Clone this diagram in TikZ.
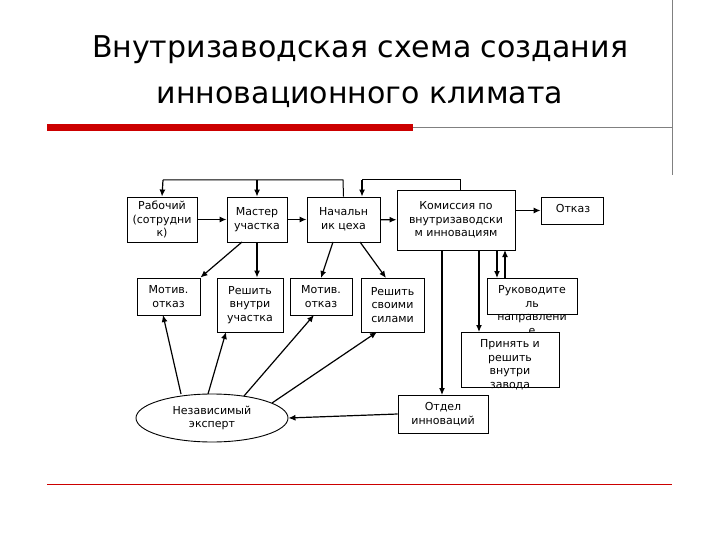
\documentclass[tikz,border=0pt]{standalone}
\usepackage{fontspec}
\setmainfont{DejaVu Sans}
\usetikzlibrary{shapes.geometric,arrows.meta}
\begin{document}
\begin{tikzpicture}[x=1pt,y=-1pt,
  bx/.style={draw,line width=0.9pt,fill=white,font=\fontsize{11}{13.5}\selectfont,align=center,inner sep=0pt},
  tx/.style={font=\fontsize{11}{13.5}\selectfont,align=center},
  ar/.style={line width=1.2pt,-{Latex[length=7pt,width=6pt]}}]
\useasboundingbox (0,0) rectangle (720,540);
\node[font=\fontsize{30}{36}\selectfont] (t1) at (360,50) {Внутризаводская схема создания};
\node[font=\fontsize{30}{36}\selectfont] (t2) at (360,97) {инновационного климата};
\fill[red!80!black] (47,124) rectangle (413,131);
\draw[gray] (413,127) -- (672,127);
\draw[gray] (672,0) -- (672,175);
\draw[red!80!black] (47,484) -- (672,484);
\node[bx,minimum width=70,minimum height=45] (rab) at (162,219.5) {Рабочий\\(сотрудни\\к)};
\node[bx,minimum width=60,minimum height=45] (mas) at (257,219.5) {Мастер\\участка};
\node[bx,minimum width=73,minimum height=45] (nac) at (343.5,219.5) {Начальн\\ик цеха};
\node[bx,minimum width=118,minimum height=60] (kom) at (456,220) {Комиссия по\\внутризаводски\\м инновациям};
\node[bx,minimum width=62,minimum height=27] (otk) at (572,210.5) {};
\node[tx] (otkt) at (573,208) {Отказ};
\node[bx,minimum width=63,minimum height=37] (mo1) at (168.5,296.5) {Мотив.\\отказ};
\node[bx,minimum width=66,minimum height=54] (rv) at (250,305) {Решить\\внутри\\участка};
\node[bx,minimum width=62,minimum height=37] (mo2) at (321,296.5) {Мотив.\\отказ};
\node[bx,minimum width=63,minimum height=54] (rs) at (392.5,305) {Решить\\своими\\силами};
\node[bx,minimum width=90,minimum height=36] (ruk) at (532,296) {};
\node[tx,anchor=north] (rukt) at (532,282) {Руководите\\ль\\направлени\\е};
\node[bx,minimum width=98,minimum height=55] (pri) at (510,359.5) {};
\node[tx,anchor=north] (prit) at (510,336) {Принять и\\решить\\внутри\\завода};
\node[bx,minimum width=90,minimum height=38] (otd) at (443,414) {Отдел\\инноваций};
\node[draw,line width=0.9pt,ellipse,minimum width=152,minimum height=48,inner sep=0pt,tx] (ell) at (212,418) {Независимый\\эксперт};
\coordinate (c1) at (163,180); \coordinate (c2) at (343,180);
\coordinate (c3) at (362,180); \coordinate (c4) at (460,180);
\draw[line width=1pt] (nac.north) -- (c2) -- (c1);
\draw[ar] (c1) -- (rab.north);
\draw[ar] (257,180) -- (mas.north);
\draw[line width=1pt] (kom.north-|c4) -- (c4) -- (c3);
\draw[ar] (c3) -- (c3|-nac.north);
\draw[ar] (rab) -- (mas); \draw[ar] (mas) -- (nac); \draw[ar] (nac) -- (kom);
\draw[ar] (kom.east|-otk.west) -- (otk.west);
\draw[ar] (242,242) -- (mo1.north east);
\draw[ar] (mas.south) -- (rv.north-|mas.south);
\draw[ar] (333,242) -- (321,278);
\draw[ar] (360,242) -- (386,278);
\draw[ar] (181,394) -- (163,315);
\draw[ar] (208,394) -- (226,332);
\draw[ar] (244,396) -- (314,315);
\draw[ar] (272,403) -- (377,332);
\draw[ar] (otd.west) -- (ell.east);
\draw[ar] (442,250) -- (442,395);
\draw[ar] (479,250) -- (479,332);
\draw[ar] (497,250) -- (497,278);
\draw[ar] (505,278) -- (505,250);
\end{tikzpicture}
\end{document}
